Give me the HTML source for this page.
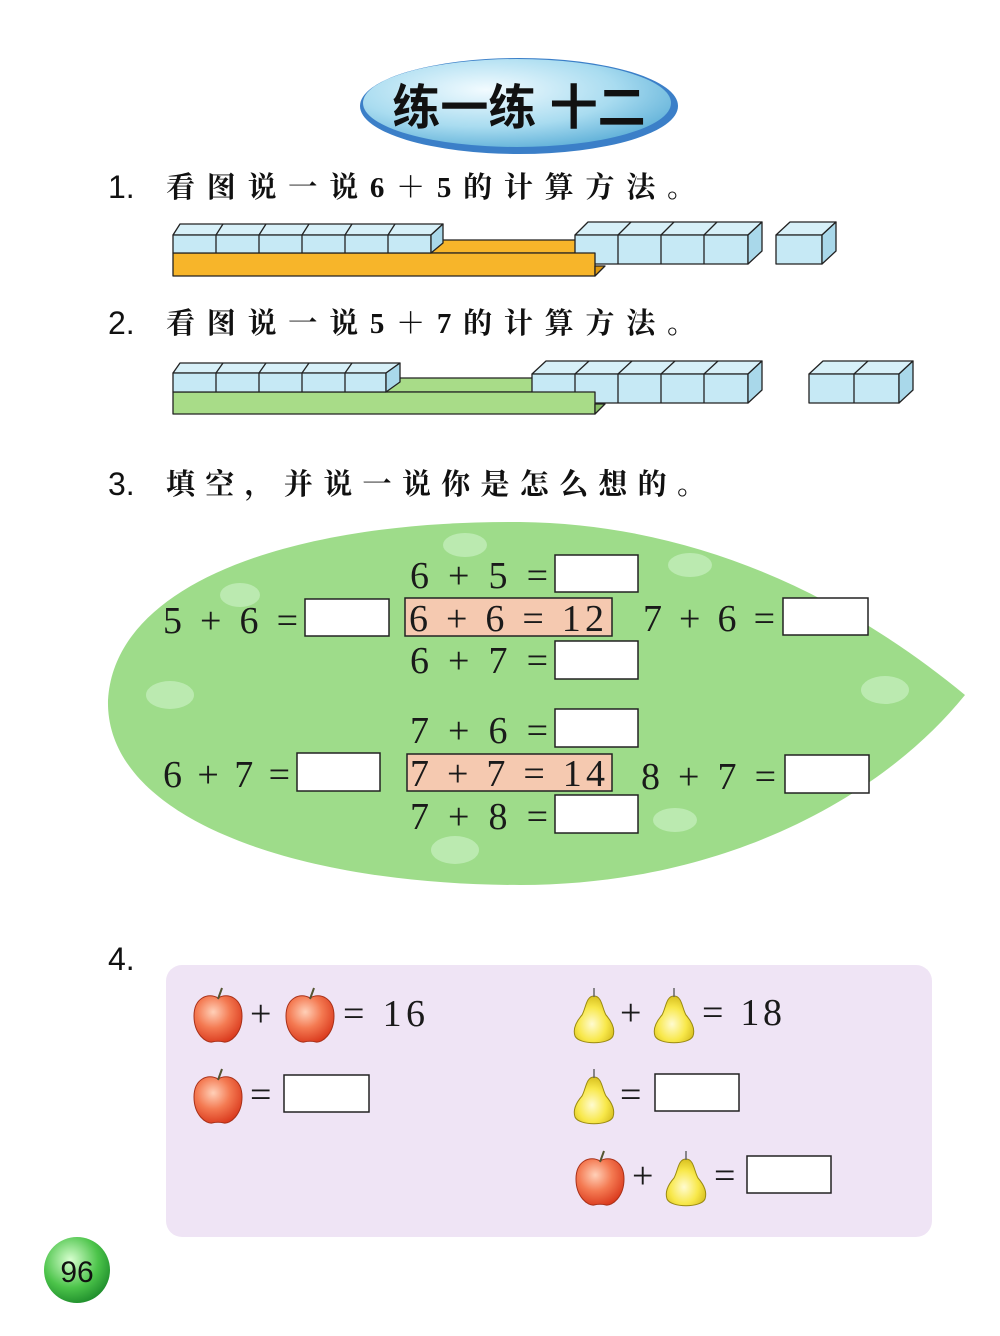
<!DOCTYPE html>
<html><head><meta charset="utf-8"><style>
html,body{margin:0;padding:0;background:#fff}
svg{display:block}
.cn{font-family:"Liberation Serif","Noto Serif CJK SC","Noto Sans CJK SC",serif;font-weight:bold}
.eq{font-family:"Liberation Serif",serif;font-size:38px;fill:#1a1a1a}
</style></head><body>
<svg width="1000" height="1336" viewBox="0 0 1000 1336" xmlns="http://www.w3.org/2000/svg">
<defs>
<radialGradient id="tg" cx="0.4" cy="0.35" r="0.7"><stop offset="0" stop-color="#f2fbff"/><stop offset="0.6" stop-color="#a9dcf0"/><stop offset="1" stop-color="#5fb0d8"/></radialGradient>
<radialGradient id="ag" cx="0.4" cy="0.35" r="0.7"><stop offset="0" stop-color="#ffd0b8"/><stop offset="0.5" stop-color="#f47a52"/><stop offset="1" stop-color="#d9381c"/></radialGradient>
<radialGradient id="pg" cx="0.45" cy="0.6" r="0.6"><stop offset="0" stop-color="#fffbd0"/><stop offset="0.6" stop-color="#f8e84a"/><stop offset="1" stop-color="#d8c020"/></radialGradient>
<radialGradient id="ng" cx="0.4" cy="0.35" r="0.7"><stop offset="0" stop-color="#d8ffd0"/><stop offset="0.6" stop-color="#4cc44a"/><stop offset="1" stop-color="#1c8a2a"/></radialGradient>
<g id="apple"><path d="M0,-20 C-10,-26 -24,-20 -24,-2 C-24,16 -12,25 -6,24 C-2,23 2,23 6,24 C12,25 24,16 24,-2 C24,-20 10,-26 0,-20Z" fill="url(#ag)" stroke="#a83018" stroke-width="1"/><path d="M0,-19 L4,-30" stroke="#553" stroke-width="2"/></g>
<g id="pear"><path d="M0,-22 C-8,-22 -8,-10 -12,-3 C-19,5 -21,12 -19,18 C-15,27 15,27 19,18 C21,12 19,5 12,-3 C8,-10 8,-22 0,-22Z" fill="url(#pg)" stroke="#9a8a10" stroke-width="1"/><path d="M0,-21 L0,-30" stroke="#666" stroke-width="1.5"/></g>
</defs>

<!-- Title -->
<ellipse cx="519" cy="106" rx="159" ry="48" fill="#3b7fc8"/>
<ellipse cx="517" cy="103" rx="154" ry="44" fill="url(#tg)"/>
<text x="519" y="124" text-anchor="middle" font-family="'Liberation Sans','Noto Sans CJK SC',sans-serif" font-weight="bold" font-size="48" fill="#111">练一练 十二</text>

<!-- Q1 -->
<text x="108" y="198" font-family="'Liberation Sans',sans-serif" font-size="32" fill="#111">1.</text>
<text x="166" y="197" class="cn" font-size="29" fill="#111" textLength="530" lengthAdjust="spacing">看图说一说6＋5的计算方法。</text>
<g stroke="#222" stroke-width="1.3" stroke-linejoin="round">
<rect x="431" y="240" width="146" height="13" fill="#f7b52a"/>
<polygon points="575,235 588,222 762,222 748,235" fill="#d7f0f8"/>
<rect x="575" y="235" width="173" height="29" fill="#c6e9f5"/>
<polygon points="748,235 762,222 762,251 748,264" fill="#a9d8ea"/>
<path d="M618,235V264M661,235V264M704,235V264M618,235L631,222M661,235L674,222M704,235L717,222" fill="none"/>
<rect x="173" y="253" width="422" height="23" fill="#f7b52a"/>
<polygon points="595,266 605,266 595,276" fill="#e09a10"/>
<polygon points="173,235 180,224 443,224 431,235" fill="#d7f0f8"/>
<rect x="173" y="235" width="258" height="18" fill="#c6e9f5"/>
<polygon points="431,235 443,224 443,243 431,253" fill="#a9d8ea"/>
<path d="M216,235V253M259,235V253M302,235V253M345,235V253M388,235V253M216,235L223,224M259,235L266,224M302,235L309,224M345,235L352,224M388,235L395,224" fill="none"/>
<polygon points="776,235 790,222 836,222 822,235" fill="#d7f0f8"/>
<rect x="776" y="235" width="46" height="29" fill="#c6e9f5"/>
<polygon points="822,235 836,222 836,251 822,264" fill="#a9d8ea"/>
</g>

<!-- Q2 -->
<text x="108" y="334" font-family="'Liberation Sans',sans-serif" font-size="32" fill="#111">2.</text>
<text x="166" y="333" class="cn" font-size="29" fill="#111" textLength="530" lengthAdjust="spacing">看图说一说5＋7的计算方法。</text>
<g stroke="#222" stroke-width="1.3" stroke-linejoin="round">
<rect x="386" y="378" width="148" height="14" fill="#a8dc88"/>
<polygon points="532,374 546,361 762,361 748,374" fill="#d7f0f8"/>
<rect x="532" y="374" width="216" height="29" fill="#c6e9f5"/>
<polygon points="748,374 762,361 762,390 748,403" fill="#a9d8ea"/>
<path d="M575,374V403M618,374V403M661,374V403M704,374V403M575,374L589,361M618,374L632,361M661,374L675,361M704,374L718,361" fill="none"/>
<rect x="173" y="392" width="422" height="22" fill="#a8dc88"/>
<polygon points="595,404 605,404 595,414" fill="#88c068"/>
<polygon points="173,373 180,363 400,363 386,373" fill="#d7f0f8"/>
<rect x="173" y="373" width="213" height="19" fill="#c6e9f5"/>
<polygon points="386,373 400,363 400,382 386,392" fill="#a9d8ea"/>
<path d="M216,373V392M259,373V392M302,373V392M345,373V392M216,373L223,363M259,373L266,363M302,373L309,363M345,373L352,363" fill="none"/>
<polygon points="809,374 823,361 913,361 899,374" fill="#d7f0f8"/>
<rect x="809" y="374" width="90" height="29" fill="#c6e9f5"/>
<polygon points="899,374 913,361 913,390 899,403" fill="#a9d8ea"/>
<path d="M854,374V403M854,374L868,361" fill="none"/>
</g>

<!-- Q3 -->
<text x="108" y="495" font-family="'Liberation Sans',sans-serif" font-size="32" fill="#111">3.</text>
<text x="166" y="494" class="cn" font-size="29" fill="#111" textLength="540" lengthAdjust="spacing">填空，并说一说你是怎么想的。</text>
<path d="M108,700 C115,580 300,520 520,522 C700,524 850,600 965,695 C880,800 720,885 520,885 C300,885 105,820 108,700Z" fill="#9edc8a"/>
<g fill="#c8f0c0" opacity="0.7">
<ellipse cx="465" cy="545" rx="22" ry="12"/><ellipse cx="690" cy="565" rx="22" ry="12"/><ellipse cx="240" cy="595" rx="20" ry="12"/>
<ellipse cx="170" cy="695" rx="24" ry="14"/><ellipse cx="885" cy="690" rx="24" ry="14"/><ellipse cx="455" cy="850" rx="24" ry="14"/><ellipse cx="675" cy="820" rx="22" ry="12"/>
</g>
<g stroke="#222" stroke-width="1.5" fill="#fff">
<rect x="555" y="555" width="83" height="37"/><rect x="305" y="599" width="84" height="37"/><rect x="783" y="598" width="85" height="37"/><rect x="555" y="641" width="83" height="38"/>
<rect x="555" y="709" width="83" height="38"/><rect x="297" y="753" width="83" height="38"/><rect x="785" y="755" width="84" height="38"/><rect x="555" y="795" width="83" height="38"/>
<rect x="405" y="598" width="207" height="38" fill="#f5c9b0"/><rect x="407" y="754" width="205" height="37" fill="#f5c9b0"/>
</g>
<g class="eq">
<text x="410" y="588" textLength="138" lengthAdjust="spacing">6 + 5 =</text>
<text x="163" y="633" textLength="135" lengthAdjust="spacing">5 + 6 =</text>
<text x="409" y="631" textLength="195" lengthAdjust="spacing">6 + 6 = 12</text>
<text x="643" y="631" textLength="132" lengthAdjust="spacing">7 + 6 =</text>
<text x="410" y="673" textLength="138" lengthAdjust="spacing">6 + 7 =</text>
<text x="410" y="743" textLength="138" lengthAdjust="spacing">7 + 6 =</text>
<text x="163" y="787" textLength="127" lengthAdjust="spacing">6 + 7 =</text>
<text x="410" y="786" textLength="195" lengthAdjust="spacing">7 + 7 = 14</text>
<text x="641" y="789" textLength="135" lengthAdjust="spacing">8 + 7 =</text>
<text x="410" y="829" textLength="138" lengthAdjust="spacing">7 + 8 =</text>
</g>

<!-- Q4 -->
<text x="108" y="970" font-family="'Liberation Sans',sans-serif" font-size="32" fill="#111">4.</text>
<rect x="166" y="965" width="766" height="272" rx="16" fill="#efe4f5"/>
<use href="#apple" x="218" y="1018"/><use href="#apple" x="310" y="1018"/><use href="#apple" x="218" y="1099"/><use href="#apple" x="600" y="1181"/>
<use href="#pear" x="594" y="1018"/><use href="#pear" x="674" y="1018"/><use href="#pear" x="594" y="1099"/><use href="#pear" x="686" y="1181"/>
<g class="eq">
<text x="250" y="1026">+</text><text x="343" y="1026" textLength="82" lengthAdjust="spacing">= 16</text>
<text x="250" y="1107">=</text>
<text x="620" y="1025">+</text><text x="702" y="1025" textLength="80" lengthAdjust="spacing">= 18</text>
<text x="620" y="1107">=</text>
<text x="632" y="1188">+</text><text x="714" y="1188">=</text>
</g>
<g stroke="#222" stroke-width="1.5" fill="#fff">
<rect x="284" y="1075" width="85" height="37"/><rect x="655" y="1074" width="84" height="37"/><rect x="747" y="1156" width="84" height="37"/>
</g>

<!-- page number -->
<circle cx="77" cy="1270" r="33" fill="url(#ng)"/>
<text x="77" y="1282" text-anchor="middle" font-family="'Liberation Sans',sans-serif" font-size="30" fill="#111">96</text>
</svg>
</body></html>
